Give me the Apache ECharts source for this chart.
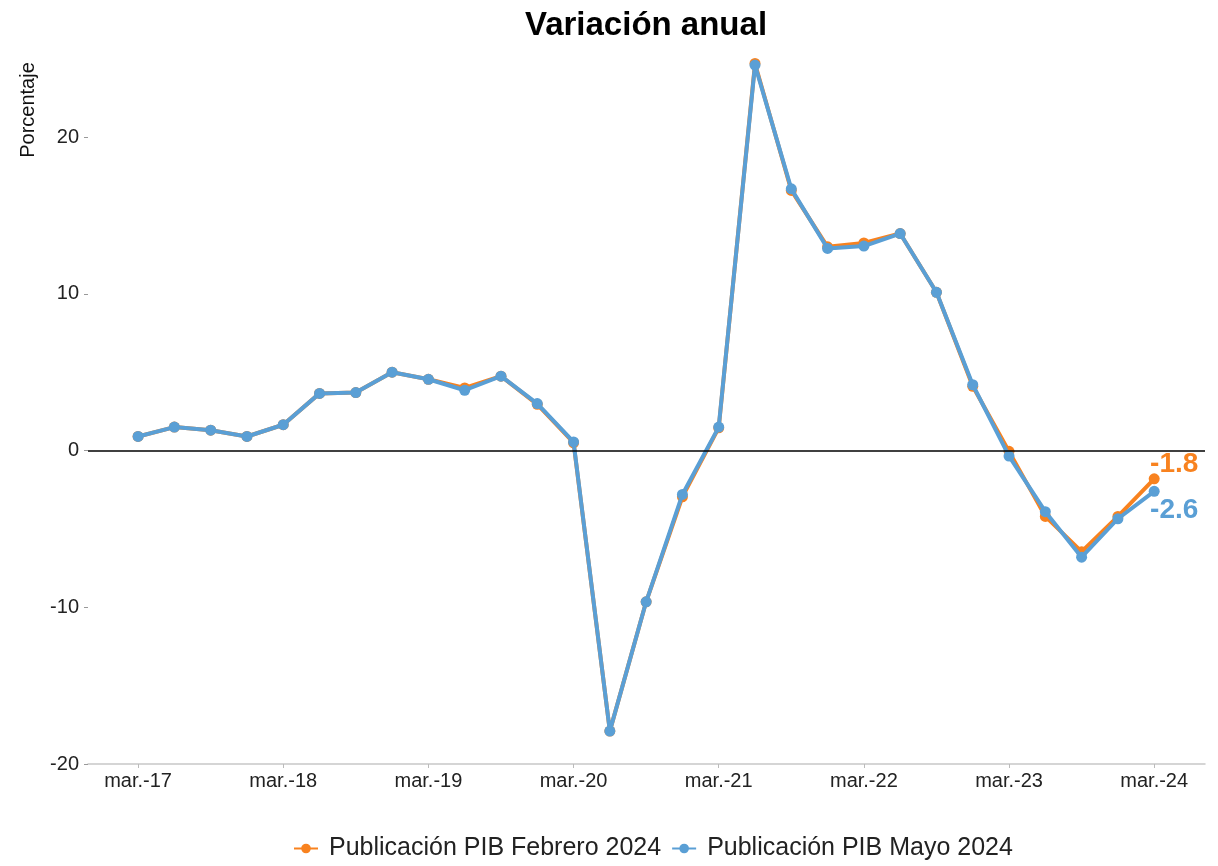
<!DOCTYPE html>
<html>
<head>
<meta charset="utf-8">
<title>Variación anual</title>
<script src="https://cdn.jsdelivr.net/npm/echarts@6/dist/echarts.min.js"></script>
<style>
  html, body { margin: 0; padding: 0; background: #fff; }
  #chart { width: 1218px; height: 866px; }
</style>
</head>
<body>
<div id="chart"></div>
<script>
  // trimestres, de mar.-17 a mar.-24
  const quarters = [
    'mar.-17', 'jun.-17', 'sep.-17', 'dic.-17',
    'mar.-18', 'jun.-18', 'sep.-18', 'dic.-18',
    'mar.-19', 'jun.-19', 'sep.-19', 'dic.-19',
    'mar.-20', 'jun.-20', 'sep.-20', 'dic.-20',
    'mar.-21', 'jun.-21', 'sep.-21', 'dic.-21',
    'mar.-22', 'jun.-22', 'sep.-22', 'dic.-22',
    'mar.-23', 'jun.-23', 'sep.-23', 'dic.-23',
    'mar.-24'
  ];
  const febrero2024 = [
    0.9, 1.5, 1.3, 0.9,
    1.65, 3.65, 3.7, 5.0,
    4.55, 4.0, 4.75, 2.95,
    0.5, -17.9, -9.65, -2.95,
    1.45, 24.7, 16.6, 13.0,
    13.25, 13.85, 10.1, 4.1,
    -0.05, -4.2, -6.45, -4.2,
    -1.8
  ];
  const mayo2024 = [
    0.9, 1.5, 1.3, 0.9,
    1.65, 3.65, 3.7, 5.0,
    4.55, 3.85, 4.75, 3.0,
    0.55, -17.9, -9.65, -2.8,
    1.5, 24.6, 16.7, 12.9,
    13.05, 13.85, 10.1, 4.2,
    -0.35, -3.9, -6.8, -4.35,
    -2.6
  ];
  const xTickIdx = [0, 4, 8, 12, 16, 20, 24, 28];
  const yTicks = [-20, -10, 0, 10, 20];

  const naranja = '#F8821F';
  const azul = '#5A9FD5';
  const fuente = '"Liberation Sans", Arial, sans-serif';

  // pares [indice, valor]; solo el ultimo punto lleva etiqueta
  function toPoints(values, labelCfg) {
    return values.map((v, i) => {
      if (i === values.length - 1) {
        return { value: [i, v], label: labelCfg };
      }
      return [i, v];
    });
  }

  const chart = echarts.init(document.getElementById('chart'));
  const option = {
    animation: false,
    title: {
      text: 'Variación anual',
      left: 641,
      textAlign: 'center',
      top: 4,
      textStyle: { fontFamily: fuente, fontSize: 33, fontWeight: 'bold', color: '#000' }
    },
    grid: { left: 88, right: 13, top: 40, bottom: 102 },
    legend: {
      bottom: 0,
      left: 288,
      itemWidth: 24,
      itemHeight: 12,
      itemGap: 10,
      textStyle: { fontFamily: fuente, fontSize: 25, color: '#222', padding: [0, 0, 0, 6] },
      data: ['Publicación PIB Febrero 2024', 'Publicación PIB Mayo 2024']
    },
    graphic: [{
      type: 'text',
      x: 28,
      y: 110,
      rotation: Math.PI / 2,
      style: {
        text: 'Porcentaje',
        fontFamily: fuente,
        fontSize: 20,
        fill: '#111',
        align: 'center',
        verticalAlign: 'middle'
      }
    }],
    xAxis: {
      type: 'value',
      min: -1.38,
      max: 29.4,
      axisLine: { show: true, onZero: false, lineStyle: { color: '#c8c8c8', width: 1.5 } },
      axisTick: { show: true, length: 4, lineStyle: { color: '#bbb' }, customValues: xTickIdx },
      axisLabel: {
        customValues: xTickIdx,
        formatter: v => quarters[Math.round(v)],
        fontFamily: fuente,
        fontSize: 20,
        color: '#222',
        margin: 7
      },
      splitLine: { show: false }
    },
    yAxis: {
      type: 'value',
      min: -20,
      max: 26.2,
      axisLine: { show: false, onZero: false },
      axisTick: { show: true, length: 4, lineStyle: { color: '#999' }, customValues: yTicks },
      axisLabel: {
        customValues: yTicks,
        fontFamily: fuente,
        fontSize: 20,
        color: '#222',
        margin: 9
      },
      splitLine: { show: false }
    },
    series: [{
      name: 'Publicación PIB Febrero 2024',
      type: 'line',
      data: toPoints(febrero2024, {
        show: true,
        position: 'top',
        distance: 1,
        offset: [20, 6],
        formatter: p => p.value[1].toFixed(1),
        fontFamily: fuente,
        fontSize: 28,
        fontWeight: 'bold',
        color: naranja
      }),
      symbol: 'circle',
      symbolSize: 11,
      color: naranja,
      lineStyle: { width: 4, color: naranja },
      itemStyle: { color: naranja },
      z: 2,
      markLine: {
        silent: true,
        symbol: 'none',
        label: { show: false },
        lineStyle: { color: '#000', width: 1.5, type: 'solid' },
        data: [{ yAxis: 0 }]
      }
    }, {
      name: 'Publicación PIB Mayo 2024',
      type: 'line',
      data: toPoints(mayo2024, {
        show: true,
        position: 'bottom',
        distance: 2,
        offset: [20, -3],
        formatter: p => p.value[1].toFixed(1),
        fontFamily: fuente,
        fontSize: 28,
        fontWeight: 'bold',
        color: azul
      }),
      symbol: 'circle',
      symbolSize: 11,
      color: azul,
      lineStyle: { width: 4, color: azul },
      itemStyle: { color: azul },
      z: 3
    }]
  };
  chart.setOption(option);
</script>
</body>
</html>
